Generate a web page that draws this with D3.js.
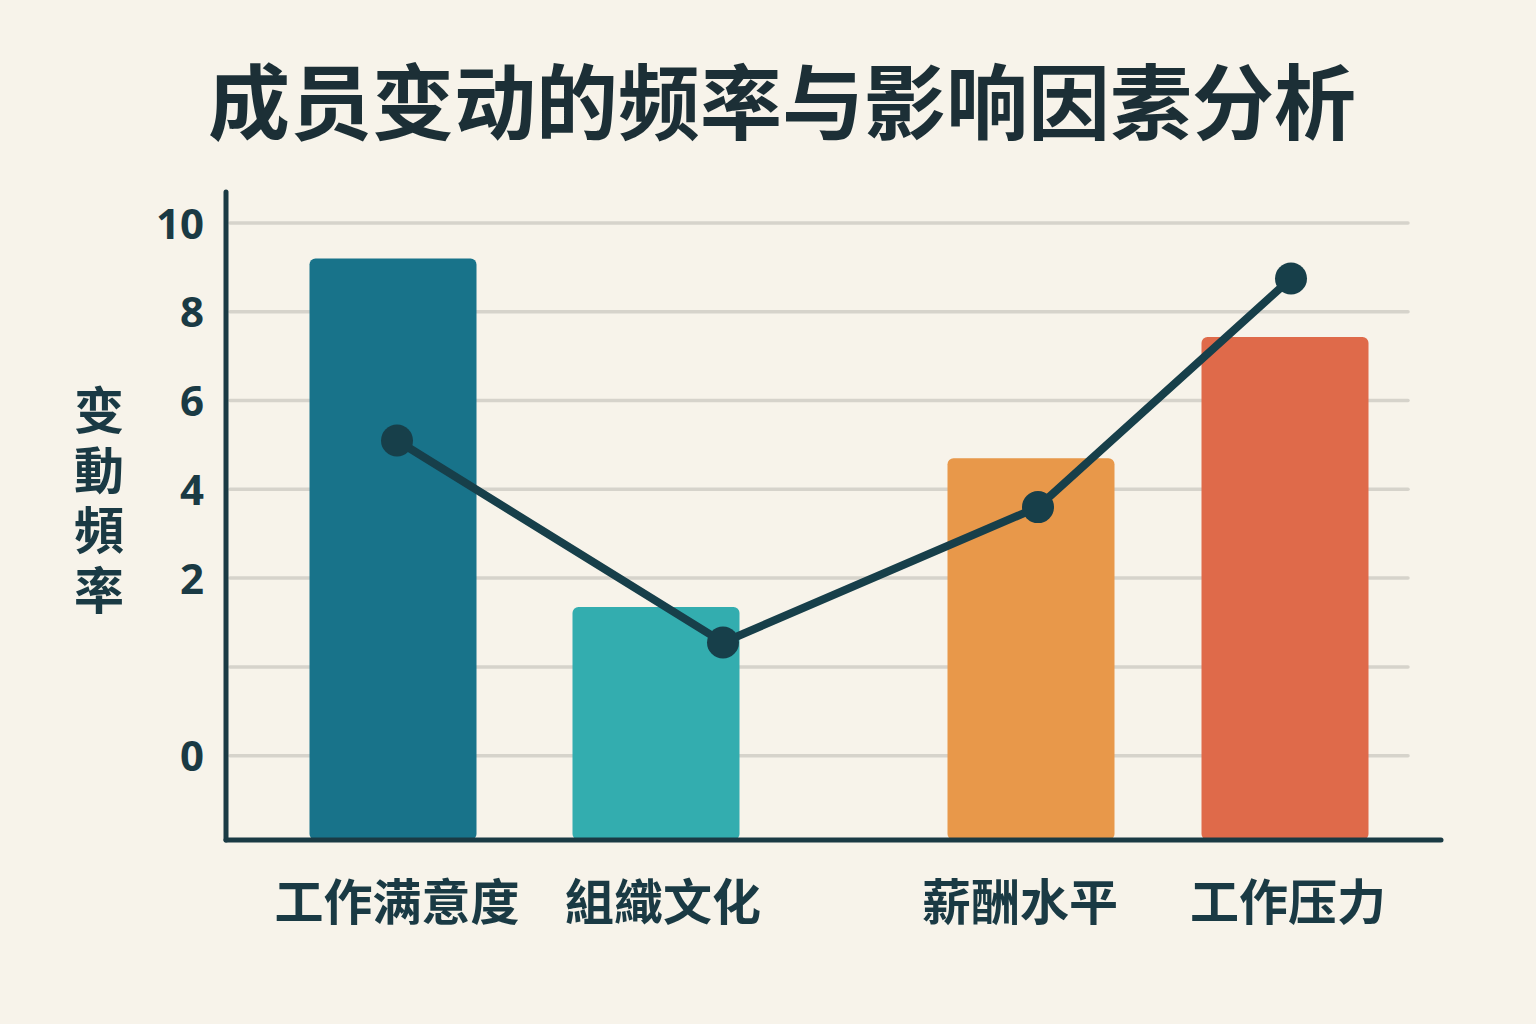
<!DOCTYPE html>
<html>
<head>
<meta charset="utf-8">
<script src="https://cdn.jsdelivr.net/npm/d3@7"></script>
<style>
  html, body { margin: 0; padding: 0; background: #f7f3ea; }
  svg { display: block; }
</style>
</head>
<body>
<div id="chart"></div>
<script>
// chart data
var categories = ["工作满意度", "組織文化", "薪酬水平", "工作压力"];
var barValues = [9.2, 1.35, 4.7, 7.43];
var lineValues = [5.1, 0.55, 3.6, 8.75];
var tickValues = [10, 8, 6, 4, 2, 0, -2];
var tickLabels = ["10", "8", "6", "4", "2", "", "0"];
var barColors = ["#18738a", "#33adaf", "#e8984a", "#df6a4a"];
var title = "成员变动的频率与影响因素分析";
var yTitle = "变動頻率";

var width = 1536, height = 1024;
var ink = "#1a3a44";

var svg = d3.select("#chart").append("svg")
    .attr("width", width)
    .attr("height", height);

svg.append("rect").attr("width", width).attr("height", height).attr("fill", "#f7f3ea");

// y scale: bottom of axis sits a bit below the lowest gridline
var y = d3.scaleLinear().domain([-3.9, 10]).range([840, 223]);

// categories are not evenly spaced in the original
var xBar = d3.scaleOrdinal().domain(categories).range([393, 656, 1031, 1285]);
var xLine = d3.scaleOrdinal().domain(categories).range([397, 723, 1038, 1291]);
var barWidth = 167;

// gridlines
svg.append("g")
    .selectAll("line")
    .data(tickValues)
    .enter()
    .append("line")
    .attr("x1", 230)
    .attr("x2", 1408)
    .attr("y1", function(d) { return y(d); })
    .attr("y2", function(d) { return y(d); })
    .attr("stroke", "#d6d3cb")
    .attr("stroke-width", 3.5)
    .attr("stroke-linecap", "round");

// y axis labels
var yAxis = d3.axisLeft(y)
    .tickValues(tickValues)
    .tickSize(0)
    .tickPadding(0)
    .tickFormat(function(d, i) { return tickLabels[i]; });

var yg = svg.append("g")
    .attr("transform", "translate(204,0)")
    .call(yAxis);
yg.select(".domain").remove();
yg.selectAll("text")
    .attr("font-family", "'Noto Sans', sans-serif")
    .attr("font-weight", 700)
    .attr("font-size", 42)
    .attr("fill", ink)
    .attr("dy", "0.36em");

// bars
svg.append("g")
    .selectAll("rect")
    .data(categories)
    .enter()
    .append("rect")
    .attr("x", function(d) { return xBar(d) - barWidth / 2; })
    .attr("y", function(d, i) { return y(barValues[i]); })
    .attr("width", barWidth)
    .attr("height", function(d, i) { return y(-3.9) - y(barValues[i]); })
    .attr("rx", 6)
    .attr("fill", function(d, i) { return barColors[i]; });

// axes lines
svg.append("line")
    .attr("x1", 226).attr("x2", 226)
    .attr("y1", 192).attr("y2", 840)
    .attr("stroke", ink).attr("stroke-width", 5).attr("stroke-linecap", "round");
svg.append("line")
    .attr("x1", 226).attr("x2", 1441)
    .attr("y1", 840).attr("y2", 840)
    .attr("stroke", ink).attr("stroke-width", 5).attr("stroke-linecap", "round");

// line series
var line = d3.line()
    .x(function(d, i) { return xLine(categories[i]); })
    .y(function(d) { return y(d); });

svg.append("path")
    .datum(lineValues)
    .attr("fill", "none")
    .attr("stroke", "#173f4a")
    .attr("stroke-width", 8)
    .attr("stroke-linejoin", "round")
    .attr("d", line);

svg.append("g")
    .selectAll("circle")
    .data(lineValues)
    .enter()
    .append("circle")
    .attr("cx", function(d, i) { return xLine(categories[i]); })
    .attr("cy", function(d) { return y(d); })
    .attr("r", 16)
    .attr("fill", "#173f4a");

// category labels
svg.append("g")
    .selectAll("text")
    .data(categories)
    .enter()
    .append("text")
    .attr("x", function(d, i) { return [397, 663, 1020, 1288][i]; })
    .attr("y", 902)
    .attr("dy", "0.36em")
    .attr("text-anchor", "middle")
    .attr("font-family", "'Noto Sans CJK SC', sans-serif")
    .attr("font-weight", 700)
    .attr("font-size", 49)
    .attr("fill", ink)
    .text(function(d) { return d; });

// y title, vertical
svg.append("text")
    .attr("x", 99)
    .attr("y", 505)
    .attr("text-anchor", "middle")
    .style("writing-mode", "vertical-rl")
    .style("letter-spacing", "10px")
    .attr("font-family", "'Noto Sans CJK SC', sans-serif")
    .attr("font-weight", 700)
    .attr("font-size", 50)
    .attr("fill", ink)
    .text(yTitle);

// title
svg.append("text")
    .attr("x", 782)
    .attr("y", 103)
    .attr("dy", "0.36em")
    .attr("text-anchor", "middle")
    .attr("font-family", "'Noto Sans CJK SC', sans-serif")
    .attr("font-weight", 700)
    .attr("font-size", 82)
    .attr("fill", "#1c2f36")
    .text(title);
</script>
</body>
</html>
